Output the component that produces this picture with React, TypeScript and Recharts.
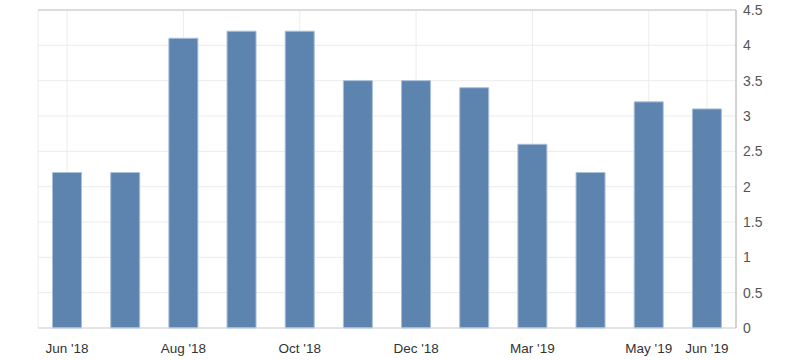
import React from 'react';
import { BarChart, Bar, XAxis, YAxis, CartesianGrid, ReferenceLine } from 'recharts';

const months = ["Jun '18", "Jul '18", "Aug '18", "Sep '18", "Oct '18", "Nov '18", "Dec '18", "Jan '19", "Mar '19", "Apr '19", "May '19", "Jun '19"];
const values = [2.2, 2.2, 4.1, 4.2, 4.2, 3.5, 3.5, 3.4, 2.6, 2.2, 3.2, 3.1];
const shownMonths = ["Jun '18", "Aug '18", "Oct '18", "Dec '18", "Mar '19", "May '19", "Jun '19"];
const yTicks = [0, 0.5, 1, 1.5, 2, 2.5, 3, 3.5, 4, 4.5];

const data = months.map((month, i) => ({ month, value: values[i] }));

const App = () => {
  return (
    <div style={{ position: 'absolute', left: 0, top: 0, width: 800, height: 360, background: '#fff', fontFamily: 'Arial, "Liberation Sans", sans-serif' }}>
      <BarChart width={800} height={360} data={data} margin={{ top: 10, right: 0, left: 38, bottom: 0 }} barCategoryGap="25%">
        <CartesianGrid stroke="#ececec" />
        <XAxis
          dataKey="month"
          ticks={shownMonths}
          height={32}
          axisLine={{ stroke: '#cfd3da' }}
          tickLine={false}
          tick={{ fill: '#333', fontSize: 13.5 }}
          dy={7}
        />
        <YAxis yAxisId="left" orientation="left" width={0} tick={false} tickLine={false} axisLine={{ stroke: '#c4c4c4', strokeWidth: 2 }} domain={[0, 4.5]} />
        <YAxis
          orientation="right"
          width={64}
          domain={[0, 4.5]}
          ticks={yTicks}
          axisLine={{ stroke: '#b0b0b0' }}
          tickLine={false}
          tick={{ fill: '#555', fontSize: 14, textAnchor: 'start' }}
          dx={-1}
        />
        <ReferenceLine y={4.5} stroke="#dcdcdc" strokeWidth={2} />
        <Bar dataKey="value" fill="#5d83af" stroke="#a9bfd9" strokeWidth={1} isAnimationActive={false} />
      </BarChart>
    </div>
  );
};

export default App;
